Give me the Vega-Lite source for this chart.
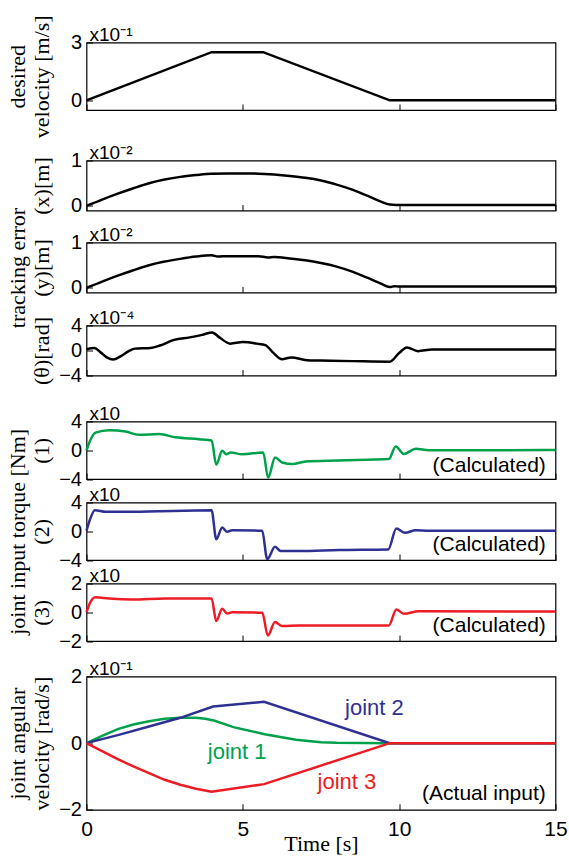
{
  "$schema": "https://vega.github.io/schema/vega-lite/v6.json",
  "background": "white",
  "padding": {"left": 5.5, "top": 13.5, "right": 5, "bottom": 2},
  "datasets": {
    "vel": [{"t":0,"v":0},{"t":4.0,"v":2.5},{"t":5.65,"v":2.5},{"t":9.7,"v":0},{"t":15,"v":0}],
    "ex": [{"t":0,"v":0},{"t":0.5,"v":0.14},{"t":1,"v":0.27},{"t":1.5,"v":0.39},{"t":2,"v":0.5},{"t":2.5,"v":0.58},{"t":3,"v":0.64},{"t":3.5,"v":0.68},{"t":4,"v":0.71},{"t":4.5,"v":0.715},{"t":5,"v":0.715},{"t":5.5,"v":0.71},{"t":6,"v":0.69},{"t":6.5,"v":0.66},{"t":7,"v":0.62},{"t":7.5,"v":0.56},{"t":8,"v":0.47},{"t":8.5,"v":0.36},{"t":9,"v":0.22},{"t":9.4,"v":0.1},{"t":9.7,"v":0.03},{"t":9.9,"v":0.02},{"t":15,"v":0.02}],
    "ey": [{"t":0,"v":0},{"t":0.5,"v":0.14},{"t":1,"v":0.27},{"t":1.5,"v":0.39},{"t":2,"v":0.5},{"t":2.5,"v":0.58},{"t":3,"v":0.64},{"t":3.5,"v":0.69},{"t":4,"v":0.72},{"t":4.2,"v":0.69},{"t":4.5,"v":0.7},{"t":5.5,"v":0.7},{"t":5.8,"v":0.67},{"t":6,"v":0.68},{"t":6.5,"v":0.65},{"t":7,"v":0.61},{"t":7.5,"v":0.55},{"t":8,"v":0.47},{"t":8.5,"v":0.36},{"t":9,"v":0.22},{"t":9.4,"v":0.1},{"t":9.7,"v":0.02},{"t":9.85,"v":0.04},{"t":10,"v":0.03},{"t":15,"v":0.03}],
    "eth": [{"t":0,"v":0.2},{"t":0.25,"v":0.4},{"t":0.45,"v":-0.3},{"t":0.65,"v":-1.1},{"t":0.85,"v":-1.45},{"t":1.1,"v":-0.9},{"t":1.35,"v":-0.1},{"t":1.55,"v":0.3},{"t":2.05,"v":0.4},{"t":2.35,"v":0.8},{"t":2.8,"v":1.7},{"t":3.3,"v":2.1},{"t":3.7,"v":2.5},{"t":4.02,"v":2.9},{"t":4.25,"v":2.1},{"t":4.6,"v":1.1},{"t":5.0,"v":1.35},{"t":5.45,"v":1.1},{"t":5.72,"v":0.85},{"t":6.0,"v":-0.5},{"t":6.25,"v":-1.4},{"t":6.55,"v":-1.1},{"t":7.05,"v":-1.55},{"t":7.5,"v":-1.6},{"t":8.5,"v":-1.7},{"t":9.7,"v":-1.8},{"t":10.0,"v":-0.4},{"t":10.25,"v":0.5},{"t":10.6,"v":-0.1},{"t":11.05,"v":0.15},{"t":12,"v":0.15},{"t":15,"v":0.15}],
    "tau1": [{"t":0,"v":0},{"t":0.1,"v":1.2},{"t":0.29,"v":2.45},{"t":0.72,"v":2.8},{"t":1.25,"v":2.6},{"t":1.68,"v":2.15},{"t":2.32,"v":2.25},{"t":2.85,"v":1.8},{"t":3.6,"v":1.55},{"t":4.0,"v":1.36},{"t":4.15,"v":-2.0},{"t":4.34,"v":-0.07},{"t":4.47,"v":-0.55},{"t":4.61,"v":-0.3},{"t":4.98,"v":-0.55},{"t":5.65,"v":-0.3},{"t":5.81,"v":-3.8},{"t":6.03,"v":-1.0},{"t":6.26,"v":-1.7},{"t":6.58,"v":-1.92},{"t":7.01,"v":-1.55},{"t":8.07,"v":-1.41},{"t":9.67,"v":-1.22},{"t":9.89,"v":0.53},{"t":10.15,"v":-0.5},{"t":10.53,"v":0.2},{"t":10.95,"v":0.0},{"t":15,"v":0.03}],
    "tau2": [{"t":0,"v":0.1},{"t":0.1,"v":1.5},{"t":0.27,"v":2.93},{"t":0.61,"v":2.7},{"t":1.46,"v":2.7},{"t":4.0,"v":2.93},{"t":4.15,"v":-1.1},{"t":4.34,"v":0.53},{"t":4.5,"v":-0.07},{"t":4.66,"v":0.16},{"t":5.62,"v":0.06},{"t":5.78,"v":-3.86},{"t":6.03,"v":-2.15},{"t":6.21,"v":-2.75},{"t":6.8,"v":-2.75},{"t":8.07,"v":-2.61},{"t":9.65,"v":-2.52},{"t":9.91,"v":0.39},{"t":10.19,"v":-0.21},{"t":10.53,"v":0.16},{"t":10.95,"v":0.06},{"t":15,"v":0.06}],
    "tau3": [{"t":0,"v":0},{"t":0.1,"v":0.6},{"t":0.29,"v":1.05},{"t":0.72,"v":0.96},{"t":1.46,"v":0.89},{"t":2.53,"v":0.96},{"t":4.0,"v":0.96},{"t":4.15,"v":-0.61},{"t":4.34,"v":0.24},{"t":4.5,"v":-0.08},{"t":4.66,"v":0.01},{"t":5.62,"v":-0.03},{"t":5.8,"v":-1.61},{"t":6.03,"v":-0.68},{"t":6.26,"v":-0.96},{"t":6.8,"v":-0.91},{"t":9.67,"v":-0.91},{"t":9.91,"v":0.2},{"t":10.15,"v":-0.1},{"t":10.63,"v":0.08},{"t":15,"v":0.05}],
    "jv": [
      {"s":"joint 1","t":0,"v":0},{"s":"joint 1","t":0.5,"v":0.22},{"s":"joint 1","t":1,"v":0.42},{"s":"joint 1","t":1.5,"v":0.56},{"s":"joint 1","t":2,"v":0.66},{"s":"joint 1","t":2.5,"v":0.73},{"s":"joint 1","t":3,"v":0.76},{"s":"joint 1","t":3.5,"v":0.76},{"s":"joint 1","t":3.8,"v":0.73},{"s":"joint 1","t":4.1,"v":0.67},{"s":"joint 1","t":4.7,"v":0.48},{"s":"joint 1","t":5.7,"v":0.27},{"s":"joint 1","t":6.7,"v":0.1},{"s":"joint 1","t":7.5,"v":0.03},{"s":"joint 1","t":8,"v":0.01},{"s":"joint 1","t":9.7,"v":0},{"s":"joint 1","t":15,"v":0},
      {"s":"joint 2","t":0,"v":0},{"s":"joint 2","t":1,"v":0.24},{"s":"joint 2","t":2,"v":0.5},{"s":"joint 2","t":3,"v":0.76},{"s":"joint 2","t":4.05,"v":1.1},{"s":"joint 2","t":5.68,"v":1.24},{"s":"joint 2","t":9.7,"v":0},{"s":"joint 2","t":15,"v":0},
      {"s":"joint 3","t":0,"v":0},{"s":"joint 3","t":0.5,"v":-0.24},{"s":"joint 3","t":1,"v":-0.48},{"s":"joint 3","t":1.5,"v":-0.7},{"s":"joint 3","t":2,"v":-0.9},{"s":"joint 3","t":2.5,"v":-1.1},{"s":"joint 3","t":3,"v":-1.25},{"s":"joint 3","t":3.5,"v":-1.37},{"s":"joint 3","t":4.0,"v":-1.46},{"s":"joint 3","t":5.68,"v":-1.23},{"s":"joint 3","t":9.7,"v":0},{"s":"joint 3","t":15,"v":0}
    ],
    "jlab": [{"s":"joint 1","t":4.82,"v":-0.26},{"s":"joint 2","t":9.21,"v":1.04},{"s":"joint 3","t":8.33,"v":-1.18}],
    "k1": [{"t":0,"v":3,"label":"x10⁻¹"}],
    "k2": [{"t":0,"v":1,"label":"x10⁻²"}],
    "k3": [{"t":0,"v":1,"label":"x10⁻²"}],
    "k4": [{"t":0,"v":4,"label":"x10⁻⁴"}],
    "k5": [{"t":0,"v":4,"label":"x10"}],
    "k6": [{"t":0,"v":4,"label":"x10"}],
    "k7": [{"t":0,"v":2,"label":"x10"}],
    "k8": [{"t":0,"v":2,"label":"x10⁻¹"}],
    "c5": [{"t":14.69,"v":-2.15,"label":"(Calculated)"}],
    "c6": [{"t":14.69,"v":-1.92,"label":"(Calculated)"}],
    "c7": [{"t":14.69,"v":-0.96,"label":"(Calculated)"}],
    "c8": [{"t":14.69,"v":-1.53,"label":"(Actual input)"}]
  },
  "config": {
    "view": {"stroke": "#000", "strokeWidth": 1.2},
    "axis": {"grid": false, "domain": false, "ticks": true, "tickColor": "#000", "tickWidth": 1, "tickSize": -6, "labelFlush": false, "labelOverlap": false, "labelColor": "#000", "labelFont": "Liberation Sans", "titleFont": "Liberation Serif", "titleFontSize": 22, "titleFontWeight": "normal", "titleColor": "#000", "titleLineHeight": 24},
    "axisY": {"labelFontSize": 20, "labelPadding": 11},
    "axisX": {"labelFontSize": 21, "labelPadding": 15, "titlePadding": -6},
    "line": {"strokeWidth": 2.5},
    "text": {"font": "Liberation Sans", "color": "#000"}
  },
  "bounds": "flush",
  "spacing": 0,
  "vconcat": [
    {
      "width": 469, "height": 67.5,
      "encoding": {
        "x": {"field": "t", "type": "quantitative", "scale": {"domain": [0, 15], "nice": false, "zero": false}, "axis": {"values": [0, 5, 10, 15], "labels": false, "title": null}},
        "y": {"field": "v", "type": "quantitative", "scale": {"domain": [-0.5, 3], "nice": false, "zero": false}, "axis": {"values": [0, 3], "format": "d", "labelOverlap": false, "title": ["desired", "velocity [m/s]"], "titleX": -62, "titleAngle": 270, "titleBaseline": "alphabetic", "titleAlign": "center"}}
      },
      "layer": [
        {"data": {"name": "vel"}, "mark": {"type": "line", "color": "#000"}},
        {"data": {"name": "k1"}, "mark": {"type": "text", "align": "left", "baseline": "alphabetic", "dx": 3, "dy": -2, "fontSize": 19}, "encoding": {"text": {"field": "label"}}}
      ]
    },
    {"width": 469, "height": 50, "data": {"values": []}, "mark": "point", "view": {"stroke": null}},
    {
      "width": 469, "height": 50,
      "encoding": {
        "x": {"field": "t", "type": "quantitative", "scale": {"domain": [0, 15], "nice": false, "zero": false}, "axis": {"values": [0, 5, 10, 15], "labels": false, "title": null}},
        "y": {"field": "v", "type": "quantitative", "scale": {"domain": [-0.1, 1], "nice": false, "zero": false}, "axis": {"values": [0, 1], "format": "d", "labelOverlap": false, "title": "(x)[m]", "titleX": -38, "titleAngle": 270, "titleBaseline": "alphabetic", "titleAlign": "center"}}
      },
      "layer": [
        {"data": {"name": "ex"}, "mark": {"type": "line", "color": "#000", "interpolate": "monotone"}},
        {"data": {"name": "k2"}, "mark": {"type": "text", "align": "left", "baseline": "alphabetic", "dx": 3, "dy": -2, "fontSize": 19}, "encoding": {"text": {"field": "label"}}}
      ]
    },
    {"width": 469, "height": 32, "data": {"values": []}, "mark": "point", "view": {"stroke": null}},
    {
      "width": 469, "height": 50,
      "encoding": {
        "x": {"field": "t", "type": "quantitative", "scale": {"domain": [0, 15], "nice": false, "zero": false}, "axis": {"values": [0, 5, 10, 15], "labels": false, "title": null}},
        "y": {"field": "v", "type": "quantitative", "scale": {"domain": [-0.1, 1], "nice": false, "zero": false}, "axis": {"values": [0, 1], "format": "d", "labelOverlap": false, "title": ["tracking error", "(y)[m]"], "titleX": -62, "titleAngle": 270, "titleBaseline": "alphabetic", "titleAlign": "center"}}
      },
      "layer": [
        {"data": {"name": "ey"}, "mark": {"type": "line", "color": "#000", "interpolate": "monotone"}},
        {"data": {"name": "k3"}, "mark": {"type": "text", "align": "left", "baseline": "alphabetic", "dx": 3, "dy": -2, "fontSize": 19}, "encoding": {"text": {"field": "label"}}}
      ]
    },
    {"width": 469, "height": 33, "data": {"values": []}, "mark": "point", "view": {"stroke": null}},
    {
      "width": 469, "height": 50,
      "encoding": {
        "x": {"field": "t", "type": "quantitative", "scale": {"domain": [0, 15], "nice": false, "zero": false}, "axis": {"values": [0, 5, 10, 15], "labels": false, "title": null}},
        "y": {"field": "v", "type": "quantitative", "scale": {"domain": [-4, 4], "nice": false, "zero": false}, "axis": {"values": [-4, 0, 4], "format": "d", "labelOverlap": false, "title": "(θ)[rad]", "titleX": -38, "titleAngle": 270, "titleBaseline": "alphabetic", "titleAlign": "center"}}
      },
      "layer": [
        {"data": {"name": "eth"}, "mark": {"type": "line", "color": "#000", "interpolate": "monotone"}},
        {"data": {"name": "k4"}, "mark": {"type": "text", "align": "left", "baseline": "alphabetic", "dx": 3, "dy": -2, "fontSize": 19}, "encoding": {"text": {"field": "label"}}}
      ]
    },
    {"width": 469, "height": 45.7, "data": {"values": []}, "mark": "point", "view": {"stroke": null}},
    {
      "width": 469, "height": 57.6,
      "encoding": {
        "x": {"field": "t", "type": "quantitative", "scale": {"domain": [0, 15], "nice": false, "zero": false}, "axis": {"values": [0, 5, 10, 15], "labels": false, "title": null}},
        "y": {"field": "v", "type": "quantitative", "scale": {"domain": [-4, 4], "nice": false, "zero": false}, "axis": {"values": [-4, 0, 4], "format": "d", "labelOverlap": false, "title": "(1)", "titleX": -38, "titleAngle": 270, "titleBaseline": "alphabetic", "titleAlign": "center"}}
      },
      "layer": [
        {"data": {"name": "tau1"}, "mark": {"type": "line", "color": "#00a14b", "interpolate": "monotone"}},
        {"data": {"name": "k5"}, "mark": {"type": "text", "align": "left", "baseline": "alphabetic", "dx": 3, "dy": -2, "fontSize": 19}, "encoding": {"text": {"field": "label"}}},
        {"data": {"name": "c5"}, "mark": {"type": "text", "align": "right", "baseline": "middle", "fontSize": 21}, "encoding": {"text": {"field": "label"}}}
      ]
    },
    {"width": 469, "height": 23, "data": {"values": []}, "mark": "point", "view": {"stroke": null}},
    {
      "width": 469, "height": 57.6,
      "encoding": {
        "x": {"field": "t", "type": "quantitative", "scale": {"domain": [0, 15], "nice": false, "zero": false}, "axis": {"values": [0, 5, 10, 15], "labels": false, "title": null}},
        "y": {"field": "v", "type": "quantitative", "scale": {"domain": [-4, 4], "nice": false, "zero": false}, "axis": {"values": [-4, 0, 4], "format": "d", "labelOverlap": false, "title": ["joint input torque [Nm]", "(2)"], "titleX": -62, "titleAngle": 270, "titleBaseline": "alphabetic", "titleAlign": "center"}}
      },
      "layer": [
        {"data": {"name": "tau2"}, "mark": {"type": "line", "color": "#2e3192", "interpolate": "monotone"}},
        {"data": {"name": "k6"}, "mark": {"type": "text", "align": "left", "baseline": "alphabetic", "dx": 3, "dy": -2, "fontSize": 19}, "encoding": {"text": {"field": "label"}}},
        {"data": {"name": "c6"}, "mark": {"type": "text", "align": "right", "baseline": "middle", "fontSize": 21}, "encoding": {"text": {"field": "label"}}}
      ]
    },
    {"width": 469, "height": 22.4, "data": {"values": []}, "mark": "point", "view": {"stroke": null}},
    {
      "width": 469, "height": 57.6,
      "encoding": {
        "x": {"field": "t", "type": "quantitative", "scale": {"domain": [0, 15], "nice": false, "zero": false}, "axis": {"values": [0, 5, 10, 15], "labels": false, "title": null}},
        "y": {"field": "v", "type": "quantitative", "scale": {"domain": [-2, 2], "nice": false, "zero": false}, "axis": {"values": [-2, 0, 2], "format": "d", "labelOverlap": false, "title": "(3)", "titleX": -38, "titleAngle": 270, "titleBaseline": "alphabetic", "titleAlign": "center"}}
      },
      "layer": [
        {"data": {"name": "tau3"}, "mark": {"type": "line", "color": "#ed1c24", "interpolate": "monotone"}},
        {"data": {"name": "k7"}, "mark": {"type": "text", "align": "left", "baseline": "alphabetic", "dx": 3, "dy": -2, "fontSize": 19}, "encoding": {"text": {"field": "label"}}},
        {"data": {"name": "c7"}, "mark": {"type": "text", "align": "right", "baseline": "middle", "fontSize": 21}, "encoding": {"text": {"field": "label"}}}
      ]
    },
    {"width": 469, "height": 34.1, "data": {"values": []}, "mark": "point", "view": {"stroke": null}},
    {
      "width": 469, "height": 133.3,
      "encoding": {
        "x": {"field": "t", "type": "quantitative", "scale": {"domain": [0, 15], "nice": false, "zero": false}, "axis": {"values": [0, 5, 10, 15], "labelOverlap": false, "title": "Time [s]", "format": "d"}},
        "y": {"field": "v", "type": "quantitative", "scale": {"domain": [-2, 2], "nice": false, "zero": false}, "axis": {"values": [-2, 0, 2], "format": "d", "labelOverlap": false, "title": ["joint angular", "velocity [rad/s]"], "titleX": -62, "titleAngle": 270, "titleBaseline": "alphabetic", "titleAlign": "center"}}
      },
      "layer": [
        {"data": {"name": "jv"}, "mark": {"type": "line"},
         "encoding": {"color": {"field": "s", "type": "nominal", "scale": {"domain": ["joint 1", "joint 2", "joint 3"], "range": ["#00a14b", "#2e3192", "#ed1c24"]}, "legend": null}}},
        {"data": {"name": "jlab"}, "mark": {"type": "text", "align": "center", "baseline": "middle", "fontSize": 22},
         "encoding": {"text": {"field": "s"}, "color": {"field": "s", "type": "nominal", "legend": null}}},
        {"data": {"name": "k8"}, "mark": {"type": "text", "align": "left", "baseline": "alphabetic", "dx": 3, "dy": -2, "fontSize": 19}, "encoding": {"text": {"field": "label"}}},
        {"data": {"name": "c8"}, "mark": {"type": "text", "align": "right", "baseline": "middle", "fontSize": 21}, "encoding": {"text": {"field": "label"}}}
      ]
    }
  ]
}
